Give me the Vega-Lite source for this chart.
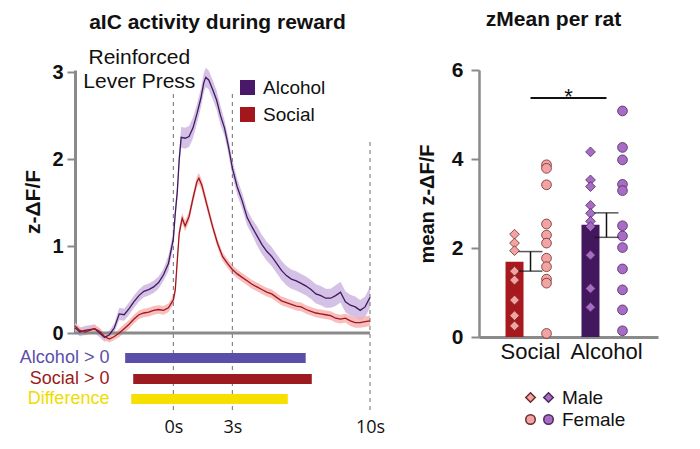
{
  "$schema": "https://vega.github.io/schema/vega-lite/v6.json",
  "padding": {"left": 19, "top": 9, "right": 5, "bottom": 5},
  "bounds": "flush",
  "spacing": 109,
  "config": {
    "view": {"stroke": null},
    "font": "Liberation Sans",
    "axis": {"grid": false, "labelColor": "#111", "titleColor": "#111", "domainColor": "#8a8a8a", "tickColor": "#8a8a8a"},
    "title": {"font": "Liberation Sans", "fontSize": 21, "fontWeight": "bold", "color": "#111", "anchor": "middle", "frame": "group"},
    "legend": {"labelFont": "Liberation Sans", "labelColor": "#111"}
  },
  "resolve": {"scale": {"color": "independent", "shape": "independent"}},
  "datasets": {
    "trace": [
      {"group": "Alcohol", "t": -5.0, "z": 0.06, "lo": 0.01, "hi": 0.11},
      {"group": "Alcohol", "t": -4.75, "z": 0.01, "lo": -0.04, "hi": 0.06},
      {"group": "Alcohol", "t": -4.5, "z": 0.03, "lo": -0.02, "hi": 0.08},
      {"group": "Alcohol", "t": -4.25, "z": 0.04, "lo": -0.01, "hi": 0.09},
      {"group": "Alcohol", "t": -4.0, "z": 0.05, "lo": 0.0, "hi": 0.1},
      {"group": "Alcohol", "t": -3.75, "z": 0.0, "lo": -0.05, "hi": 0.05},
      {"group": "Alcohol", "t": -3.5, "z": -0.05, "lo": -0.1, "hi": 0.0},
      {"group": "Alcohol", "t": -3.25, "z": -0.02, "lo": -0.07, "hi": 0.03},
      {"group": "Alcohol", "t": -3.0, "z": 0.06, "lo": 0.01, "hi": 0.11},
      {"group": "Alcohol", "t": -2.75, "z": 0.22, "lo": 0.15, "hi": 0.29},
      {"group": "Alcohol", "t": -2.5, "z": 0.21, "lo": 0.14, "hi": 0.28},
      {"group": "Alcohol", "t": -2.25, "z": 0.28, "lo": 0.21, "hi": 0.35},
      {"group": "Alcohol", "t": -2.0, "z": 0.36, "lo": 0.29, "hi": 0.43},
      {"group": "Alcohol", "t": -1.75, "z": 0.43, "lo": 0.36, "hi": 0.5},
      {"group": "Alcohol", "t": -1.5, "z": 0.48, "lo": 0.41, "hi": 0.55},
      {"group": "Alcohol", "t": -1.25, "z": 0.5, "lo": 0.43, "hi": 0.57},
      {"group": "Alcohol", "t": -1.0, "z": 0.53, "lo": 0.46, "hi": 0.6},
      {"group": "Alcohol", "t": -0.75, "z": 0.58, "lo": 0.51, "hi": 0.65},
      {"group": "Alcohol", "t": -0.5, "z": 0.67, "lo": 0.6, "hi": 0.74},
      {"group": "Alcohol", "t": -0.25, "z": 0.8, "lo": 0.71, "hi": 0.89},
      {"group": "Alcohol", "t": 0.0, "z": 1.08, "lo": 0.99, "hi": 1.17},
      {"group": "Alcohol", "t": 0.1, "z": 1.38, "lo": 1.29, "hi": 1.47},
      {"group": "Alcohol", "t": 0.2, "z": 1.62, "lo": 1.53, "hi": 1.71},
      {"group": "Alcohol", "t": 0.3, "z": 2.0, "lo": 1.91, "hi": 2.09},
      {"group": "Alcohol", "t": 0.4, "z": 2.25, "lo": 2.13, "hi": 2.37},
      {"group": "Alcohol", "t": 0.6, "z": 2.24, "lo": 2.12, "hi": 2.36},
      {"group": "Alcohol", "t": 0.8, "z": 2.26, "lo": 2.14, "hi": 2.38},
      {"group": "Alcohol", "t": 1.0, "z": 2.36, "lo": 2.24, "hi": 2.48},
      {"group": "Alcohol", "t": 1.2, "z": 2.52, "lo": 2.41, "hi": 2.63},
      {"group": "Alcohol", "t": 1.4, "z": 2.7, "lo": 2.59, "hi": 2.81},
      {"group": "Alcohol", "t": 1.55, "z": 2.88, "lo": 2.77, "hi": 2.99},
      {"group": "Alcohol", "t": 1.65, "z": 2.94, "lo": 2.83, "hi": 3.05},
      {"group": "Alcohol", "t": 1.8, "z": 2.91, "lo": 2.8, "hi": 3.02},
      {"group": "Alcohol", "t": 2.0, "z": 2.8, "lo": 2.69, "hi": 2.91},
      {"group": "Alcohol", "t": 2.2, "z": 2.68, "lo": 2.57, "hi": 2.79},
      {"group": "Alcohol", "t": 2.4, "z": 2.5, "lo": 2.39, "hi": 2.61},
      {"group": "Alcohol", "t": 2.6, "z": 2.36, "lo": 2.27, "hi": 2.45},
      {"group": "Alcohol", "t": 2.8, "z": 2.15, "lo": 2.06, "hi": 2.24},
      {"group": "Alcohol", "t": 3.0, "z": 1.9, "lo": 1.81, "hi": 1.99},
      {"group": "Alcohol", "t": 3.25, "z": 1.68, "lo": 1.59, "hi": 1.77},
      {"group": "Alcohol", "t": 3.5, "z": 1.52, "lo": 1.43, "hi": 1.61},
      {"group": "Alcohol", "t": 3.75, "z": 1.33, "lo": 1.24, "hi": 1.42},
      {"group": "Alcohol", "t": 4.0, "z": 1.22, "lo": 1.13, "hi": 1.31},
      {"group": "Alcohol", "t": 4.25, "z": 1.12, "lo": 1.01, "hi": 1.23},
      {"group": "Alcohol", "t": 4.5, "z": 1.02, "lo": 0.91, "hi": 1.13},
      {"group": "Alcohol", "t": 4.75, "z": 0.94, "lo": 0.83, "hi": 1.05},
      {"group": "Alcohol", "t": 5.0, "z": 0.88, "lo": 0.77, "hi": 0.99},
      {"group": "Alcohol", "t": 5.25, "z": 0.8, "lo": 0.69, "hi": 0.91},
      {"group": "Alcohol", "t": 5.5, "z": 0.72, "lo": 0.61, "hi": 0.83},
      {"group": "Alcohol", "t": 5.75, "z": 0.66, "lo": 0.55, "hi": 0.77},
      {"group": "Alcohol", "t": 6.0, "z": 0.62, "lo": 0.51, "hi": 0.73},
      {"group": "Alcohol", "t": 6.25, "z": 0.6, "lo": 0.49, "hi": 0.71},
      {"group": "Alcohol", "t": 6.5, "z": 0.57, "lo": 0.46, "hi": 0.68},
      {"group": "Alcohol", "t": 6.75, "z": 0.54, "lo": 0.43, "hi": 0.65},
      {"group": "Alcohol", "t": 7.0, "z": 0.5, "lo": 0.39, "hi": 0.61},
      {"group": "Alcohol", "t": 7.25, "z": 0.45, "lo": 0.34, "hi": 0.56},
      {"group": "Alcohol", "t": 7.5, "z": 0.43, "lo": 0.32, "hi": 0.54},
      {"group": "Alcohol", "t": 7.75, "z": 0.4, "lo": 0.29, "hi": 0.51},
      {"group": "Alcohol", "t": 8.0, "z": 0.4, "lo": 0.29, "hi": 0.51},
      {"group": "Alcohol", "t": 8.25, "z": 0.43, "lo": 0.31, "hi": 0.55},
      {"group": "Alcohol", "t": 8.5, "z": 0.47, "lo": 0.35, "hi": 0.59},
      {"group": "Alcohol", "t": 8.75, "z": 0.36, "lo": 0.24, "hi": 0.48},
      {"group": "Alcohol", "t": 9.0, "z": 0.32, "lo": 0.2, "hi": 0.44},
      {"group": "Alcohol", "t": 9.25, "z": 0.3, "lo": 0.18, "hi": 0.42},
      {"group": "Alcohol", "t": 9.5, "z": 0.26, "lo": 0.14, "hi": 0.38},
      {"group": "Alcohol", "t": 9.75, "z": 0.3, "lo": 0.18, "hi": 0.42},
      {"group": "Alcohol", "t": 10.0, "z": 0.41, "lo": 0.29, "hi": 0.53},
      {"group": "Social", "t": -5.0, "z": 0.08, "lo": 0.04, "hi": 0.12},
      {"group": "Social", "t": -4.75, "z": 0.03, "lo": -0.01, "hi": 0.07},
      {"group": "Social", "t": -4.5, "z": 0.01, "lo": -0.03, "hi": 0.05},
      {"group": "Social", "t": -4.25, "z": 0.03, "lo": -0.01, "hi": 0.07},
      {"group": "Social", "t": -4.0, "z": 0.05, "lo": 0.01, "hi": 0.09},
      {"group": "Social", "t": -3.75, "z": 0.02, "lo": -0.02, "hi": 0.06},
      {"group": "Social", "t": -3.5, "z": -0.04, "lo": -0.08, "hi": 0.0},
      {"group": "Social", "t": -3.25, "z": -0.07, "lo": -0.11, "hi": -0.03},
      {"group": "Social", "t": -3.0, "z": -0.04, "lo": -0.08, "hi": 0.0},
      {"group": "Social", "t": -2.75, "z": 0.0, "lo": -0.05, "hi": 0.05},
      {"group": "Social", "t": -2.5, "z": 0.05, "lo": 0.0, "hi": 0.1},
      {"group": "Social", "t": -2.25, "z": 0.1, "lo": 0.05, "hi": 0.15},
      {"group": "Social", "t": -2.0, "z": 0.16, "lo": 0.11, "hi": 0.21},
      {"group": "Social", "t": -1.75, "z": 0.21, "lo": 0.16, "hi": 0.26},
      {"group": "Social", "t": -1.5, "z": 0.23, "lo": 0.18, "hi": 0.28},
      {"group": "Social", "t": -1.25, "z": 0.24, "lo": 0.19, "hi": 0.29},
      {"group": "Social", "t": -1.0, "z": 0.26, "lo": 0.21, "hi": 0.31},
      {"group": "Social", "t": -0.75, "z": 0.27, "lo": 0.22, "hi": 0.32},
      {"group": "Social", "t": -0.5, "z": 0.26, "lo": 0.21, "hi": 0.31},
      {"group": "Social", "t": -0.25, "z": 0.29, "lo": 0.24, "hi": 0.34},
      {"group": "Social", "t": 0.0, "z": 0.38, "lo": 0.33, "hi": 0.43},
      {"group": "Social", "t": 0.1, "z": 0.5, "lo": 0.44, "hi": 0.56},
      {"group": "Social", "t": 0.2, "z": 0.83, "lo": 0.77, "hi": 0.89},
      {"group": "Social", "t": 0.3, "z": 1.15, "lo": 1.09, "hi": 1.21},
      {"group": "Social", "t": 0.45, "z": 1.32, "lo": 1.26, "hi": 1.38},
      {"group": "Social", "t": 0.6, "z": 1.23, "lo": 1.17, "hi": 1.29},
      {"group": "Social", "t": 0.8, "z": 1.34, "lo": 1.28, "hi": 1.4},
      {"group": "Social", "t": 1.0, "z": 1.55, "lo": 1.49, "hi": 1.61},
      {"group": "Social", "t": 1.2, "z": 1.74, "lo": 1.68, "hi": 1.8},
      {"group": "Social", "t": 1.3, "z": 1.78, "lo": 1.72, "hi": 1.84},
      {"group": "Social", "t": 1.45, "z": 1.7, "lo": 1.64, "hi": 1.76},
      {"group": "Social", "t": 1.7, "z": 1.48, "lo": 1.42, "hi": 1.54},
      {"group": "Social", "t": 2.0, "z": 1.22, "lo": 1.17, "hi": 1.27},
      {"group": "Social", "t": 2.25, "z": 1.03, "lo": 0.98, "hi": 1.08},
      {"group": "Social", "t": 2.5, "z": 0.88, "lo": 0.83, "hi": 0.93},
      {"group": "Social", "t": 2.75, "z": 0.8, "lo": 0.75, "hi": 0.85},
      {"group": "Social", "t": 3.0, "z": 0.73, "lo": 0.68, "hi": 0.78},
      {"group": "Social", "t": 3.25, "z": 0.68, "lo": 0.63, "hi": 0.73},
      {"group": "Social", "t": 3.5, "z": 0.64, "lo": 0.59, "hi": 0.69},
      {"group": "Social", "t": 3.75, "z": 0.6, "lo": 0.55, "hi": 0.65},
      {"group": "Social", "t": 4.0, "z": 0.56, "lo": 0.51, "hi": 0.61},
      {"group": "Social", "t": 4.25, "z": 0.53, "lo": 0.48, "hi": 0.58},
      {"group": "Social", "t": 4.5, "z": 0.5, "lo": 0.45, "hi": 0.55},
      {"group": "Social", "t": 4.75, "z": 0.47, "lo": 0.42, "hi": 0.52},
      {"group": "Social", "t": 5.0, "z": 0.45, "lo": 0.4, "hi": 0.5},
      {"group": "Social", "t": 5.25, "z": 0.41, "lo": 0.36, "hi": 0.46},
      {"group": "Social", "t": 5.5, "z": 0.37, "lo": 0.32, "hi": 0.42},
      {"group": "Social", "t": 5.75, "z": 0.35, "lo": 0.3, "hi": 0.4},
      {"group": "Social", "t": 6.0, "z": 0.33, "lo": 0.28, "hi": 0.38},
      {"group": "Social", "t": 6.25, "z": 0.31, "lo": 0.26, "hi": 0.36},
      {"group": "Social", "t": 6.5, "z": 0.3, "lo": 0.25, "hi": 0.35},
      {"group": "Social", "t": 6.75, "z": 0.27, "lo": 0.22, "hi": 0.32},
      {"group": "Social", "t": 7.0, "z": 0.25, "lo": 0.2, "hi": 0.3},
      {"group": "Social", "t": 7.25, "z": 0.23, "lo": 0.18, "hi": 0.28},
      {"group": "Social", "t": 7.5, "z": 0.22, "lo": 0.17, "hi": 0.27},
      {"group": "Social", "t": 7.75, "z": 0.21, "lo": 0.16, "hi": 0.26},
      {"group": "Social", "t": 8.0, "z": 0.2, "lo": 0.15, "hi": 0.25},
      {"group": "Social", "t": 8.25, "z": 0.17, "lo": 0.12, "hi": 0.22},
      {"group": "Social", "t": 8.5, "z": 0.16, "lo": 0.11, "hi": 0.21},
      {"group": "Social", "t": 8.75, "z": 0.17, "lo": 0.12, "hi": 0.22},
      {"group": "Social", "t": 9.0, "z": 0.14, "lo": 0.08, "hi": 0.2},
      {"group": "Social", "t": 9.25, "z": 0.12, "lo": 0.06, "hi": 0.18},
      {"group": "Social", "t": 9.5, "z": 0.12, "lo": 0.06, "hi": 0.18},
      {"group": "Social", "t": 9.75, "z": 0.13, "lo": 0.07, "hi": 0.19},
      {"group": "Social", "t": 10.0, "z": 0.14, "lo": 0.08, "hi": 0.2}
    ],
    "events": [
      {"t": 0, "from": -0.886, "to": 2.76},
      {"t": 3, "from": -0.886, "to": 2.77},
      {"t": 10, "from": -0.886, "to": 2.243}
    ],
    "windows": [
      {"label": "Alcohol > 0", "start": -2.45, "end": 6.73},
      {"label": "Social > 0", "start": -2.04, "end": 7.04},
      {"label": "Difference", "start": -2.14, "end": 5.82}
    ],
    "annotation": [
      {"text": "Reinforced\nLever Press", "t": -1.73}
    ],
    "summary": [
      {"group": "Social", "mean": 1.69, "lo": 1.48, "hi": 1.92},
      {"group": "Alcohol", "mean": 2.52, "lo": 2.24, "hi": 2.79}
    ],
    "rats": [
      {"group": "Social", "sex": "Male", "zmean": 2.31},
      {"group": "Social", "sex": "Male", "zmean": 2.11},
      {"group": "Social", "sex": "Male", "zmean": 1.94},
      {"group": "Social", "sex": "Male", "zmean": 1.48},
      {"group": "Social", "sex": "Male", "zmean": 1.28},
      {"group": "Social", "sex": "Male", "zmean": 0.83},
      {"group": "Social", "sex": "Male", "zmean": 0.48},
      {"group": "Social", "sex": "Male", "zmean": 0.25},
      {"group": "Social", "sex": "Female", "zmean": 3.87},
      {"group": "Social", "sex": "Female", "zmean": 3.79},
      {"group": "Social", "sex": "Female", "zmean": 3.42},
      {"group": "Social", "sex": "Female", "zmean": 2.54},
      {"group": "Social", "sex": "Female", "zmean": 2.29},
      {"group": "Social", "sex": "Female", "zmean": 2.11},
      {"group": "Social", "sex": "Female", "zmean": 1.77},
      {"group": "Social", "sex": "Female", "zmean": 1.58},
      {"group": "Social", "sex": "Female", "zmean": 1.3},
      {"group": "Social", "sex": "Female", "zmean": 1.21},
      {"group": "Social", "sex": "Female", "zmean": 0.08},
      {"group": "Alcohol", "sex": "Male", "zmean": 4.16},
      {"group": "Alcohol", "sex": "Male", "zmean": 3.53},
      {"group": "Alcohol", "sex": "Male", "zmean": 3.38},
      {"group": "Alcohol", "sex": "Male", "zmean": 2.96},
      {"group": "Alcohol", "sex": "Male", "zmean": 2.78},
      {"group": "Alcohol", "sex": "Male", "zmean": 2.6},
      {"group": "Alcohol", "sex": "Male", "zmean": 2.48},
      {"group": "Alcohol", "sex": "Male", "zmean": 1.84},
      {"group": "Alcohol", "sex": "Male", "zmean": 1.09},
      {"group": "Alcohol", "sex": "Male", "zmean": 0.67},
      {"group": "Alcohol", "sex": "Female", "zmean": 5.08},
      {"group": "Alcohol", "sex": "Female", "zmean": 4.26},
      {"group": "Alcohol", "sex": "Female", "zmean": 3.98},
      {"group": "Alcohol", "sex": "Female", "zmean": 3.43},
      {"group": "Alcohol", "sex": "Female", "zmean": 3.29},
      {"group": "Alcohol", "sex": "Female", "zmean": 2.5},
      {"group": "Alcohol", "sex": "Female", "zmean": 2.27},
      {"group": "Alcohol", "sex": "Female", "zmean": 2.01},
      {"group": "Alcohol", "sex": "Female", "zmean": 1.53},
      {"group": "Alcohol", "sex": "Female", "zmean": 1.06},
      {"group": "Alcohol", "sex": "Female", "zmean": 0.61},
      {"group": "Alcohol", "sex": "Female", "zmean": 0.14}
    ]
  },
  "hconcat": [
    {
      "width": 295,
      "height": 263,
      "title": {"text": "aIC activity during reward", "dx": -5, "offset": 14},
      "resolve": {"scale": {"color": "independent"}},
      "layer": [
        {
          "data": {"name": "trace"},
          "mark": {"type": "area", "opacity": 0.85},
          "encoding": {
            "x": {
              "field": "t", "type": "quantitative",
              "scale": {"domain": [-5, 10], "nice": false, "zero": false},
              "axis": {"values": [0, 3, 10], "labelExpr": "datum.value + 's'", "labelFlush": false, "domain": false, "ticks": false, "tickSize": 0, "offset": 83, "labelPadding": 2, "labelFont": "Open Sans", "labelFontSize": 18, "title": null}
            },
            "y": {
              "field": "lo", "type": "quantitative", "title": "z-ΔF/F",
              "scale": {"domain": [0, 3.025], "nice": false},
              "axis": {"values": [0, 1, 2, 3], "format": "d", "title": "z-ΔF/F", "titleFontSize": 21, "titleFontWeight": "bold", "titlePadding": 8, "labelFontSize": 20, "labelFontWeight": "bold", "labelPadding": 4, "domainWidth": 3, "tickWidth": 2, "tickSize": 8}
            },
            "y2": {"field": "hi"},
            "color": {"field": "group", "type": "nominal", "scale": {"domain": ["Alcohol", "Social"], "range": ["#cdb6e0", "#f6b3b1"]}, "legend": null}
          }
        },
        {
          "data": {"name": "events"},
          "mark": {"type": "rule", "strokeDash": [4, 4], "color": "#6e6e6e", "strokeWidth": 1},
          "encoding": {
            "x": {"field": "t", "type": "quantitative"},
            "y": {"field": "from", "type": "quantitative", "title": "z-ΔF/F"},
            "y2": {"field": "to"}
          }
        },
        {
          "data": {"values": [{}]},
          "mark": {"type": "rule", "color": "#8a8a8a", "strokeWidth": 3},
          "encoding": {"y": {"datum": 0}}
        },
        {
          "data": {"name": "trace"},
          "mark": {"type": "line", "strokeWidth": 1.3},
          "encoding": {
            "x": {"field": "t", "type": "quantitative"},
            "y": {"field": "z", "type": "quantitative", "title": "z-ΔF/F"},
            "color": {
              "field": "group", "type": "nominal",
              "scale": {"domain": ["Alcohol", "Social"], "range": ["#3f1a60", "#a3161c"]},
              "legend": null
            }
          }
        },
        {
          "data": {"name": "trace"},
          "mark": {"type": "square", "opacity": 0, "size": 1},
          "encoding": {
            "x": {"field": "t", "type": "quantitative"},
            "y": {"field": "z", "type": "quantitative", "title": "z-ΔF/F"},
            "color": {
              "field": "group", "type": "nominal",
              "scale": {"domain": ["Alcohol", "Social"], "range": ["#4a1868", "#a3161c"]},
              "legend": {"orient": "none", "legendX": 163, "legendY": 8, "title": null, "symbolSize": 225, "symbolOpacity": 1, "symbolStrokeWidth": 0, "labelFontSize": 19, "labelOffset": 6, "rowPadding": 7}
            }
          }
        },
        {
          "data": {"name": "windows"},
          "transform": [{"filter": "datum.label === 'Alcohol > 0'"}],
          "encoding": {"y": {"datum": -0.288}},
          "layer": [
            {"mark": {"type": "rule", "strokeWidth": 10, "color": "#5a4fa8"}, "encoding": {"x": {"field": "start", "type": "quantitative"}, "x2": {"field": "end"}}},
            {"mark": {"type": "text", "align": "right", "baseline": "middle", "fontSize": 18, "color": "#5a4fa8"}, "encoding": {"x": {"datum": -3.25}, "text": {"field": "label"}}}
          ]
        },
        {
          "data": {"name": "windows"},
          "transform": [{"filter": "datum.label === 'Social > 0'"}],
          "encoding": {"y": {"datum": -0.529}},
          "layer": [
            {"mark": {"type": "rule", "strokeWidth": 10, "color": "#9b1b20"}, "encoding": {"x": {"field": "start", "type": "quantitative"}, "x2": {"field": "end"}}},
            {"mark": {"type": "text", "align": "right", "baseline": "middle", "fontSize": 18, "color": "#9b1b20"}, "encoding": {"x": {"datum": -3.25}, "text": {"field": "label"}}}
          ]
        },
        {
          "data": {"name": "windows"},
          "transform": [{"filter": "datum.label === 'Difference'"}],
          "encoding": {"y": {"datum": -0.759}},
          "layer": [
            {"mark": {"type": "rule", "strokeWidth": 10, "color": "#f7e000"}, "encoding": {"x": {"field": "start", "type": "quantitative"}, "x2": {"field": "end"}}},
            {"mark": {"type": "text", "align": "right", "baseline": "middle", "fontSize": 18, "color": "#f0dc00"}, "encoding": {"x": {"datum": -3.25}, "text": {"field": "label"}}}
          ]
        },
        {
          "data": {"name": "annotation"},
          "mark": {"type": "text", "align": "center", "baseline": "middle", "fontSize": 21, "lineBreak": "\n", "lineHeight": 24, "color": "#111"},
          "encoding": {
            "x": {"field": "t", "type": "quantitative"},
            "y": {"datum": 3.163},
            "text": {"field": "text"}
          }
        }
      ]
    },
    {
      "width": 179,
      "height": 267,
      "title": {"text": "zMean per rat", "dx": -15, "offset": 29},
      "resolve": {"scale": {"shape": "independent"}},
      "layer": [
        {
          "data": {"name": "summary"},
          "mark": {"type": "bar"},
          "encoding": {
            "x": {
              "field": "group", "type": "nominal",
              "scale": {"domain": ["Social", "Alcohol"], "paddingInner": 0.342, "paddingOuter": 0.349},
              "axis": {"title": null, "labelAngle": 0, "labelFontSize": 22, "ticks": false, "domainWidth": 3, "labelPadding": 4}
            },
            "y": {
              "field": "mean", "type": "quantitative", "title": "mean z-ΔF/F",
              "scale": {"domain": [0, 6], "nice": false},
              "axis": {"values": [0, 2, 4, 6], "title": "mean z-ΔF/F", "titleFontSize": 20, "titleFontWeight": "bold", "titlePadding": 14, "labelFontSize": 21, "labelFontWeight": "bold", "labelPadding": 8, "domainWidth": 2.5, "tickWidth": 2, "tickSize": 8}
            },
            "color": {"field": "group", "type": "nominal", "scale": {"domain": ["Social", "Alcohol"], "range": ["#a8191e", "#43175d"]}, "legend": null}
          }
        },
        {
          "data": {"name": "rats"},
          "transform": [{"filter": "datum.group === 'Social'"}],
          "mark": {"type": "point", "filled": true, "size": 95, "fill": "#f4a3a3", "stroke": "#6b2c2c", "strokeWidth": 0.8, "opacity": 1},
          "encoding": {
            "x": {"field": "group", "type": "nominal"},
            "xOffset": {"field": "sex", "type": "nominal", "scale": {"type": "point", "domain": ["Male", "Female"], "range": [9, 41], "padding": 0}},
            "y": {"field": "zmean", "type": "quantitative", "title": "mean z-ΔF/F"},
            "shape": {
              "field": "sex", "type": "nominal",
              "scale": {"domain": ["Male", "Female"], "range": ["diamond", "circle"]},
              "legend": {"orient": "none", "legendX": 42, "legendY": 318, "title": null, "symbolSize": 90, "labelFontSize": 19, "labelExpr": "' '", "labelOffset": 1, "rowPadding": 2}
            }
          }
        },
        {
          "data": {"name": "rats"},
          "transform": [{"filter": "datum.group === 'Alcohol'"}],
          "mark": {"type": "point", "filled": true, "size": 95, "fill": "#a86cc6", "stroke": "#4a2a5a", "strokeWidth": 0.8, "opacity": 1},
          "encoding": {
            "x": {"field": "group", "type": "nominal"},
            "xOffset": {"field": "sex", "type": "nominal"},
            "y": {"field": "zmean", "type": "quantitative", "title": "mean z-ΔF/F"},
            "shape": {
              "field": "sex", "type": "nominal",
              "scale": {"domain": ["Male", "Female"], "range": ["diamond", "circle"]},
              "legend": {"orient": "none", "legendX": 60, "legendY": 318, "title": null, "symbolSize": 90, "labelFontSize": 19, "labelOffset": 4, "rowPadding": 2}
            }
          }
        },
        {
          "data": {"name": "summary"},
          "mark": {"type": "errorbar", "ticks": true, "size": 24, "thickness": 1.5, "color": "#111"},
          "encoding": {
            "x": {"field": "group", "type": "nominal"},
            "y": {"field": "lo", "type": "quantitative", "title": "mean z-ΔF/F"},
            "y2": {"field": "hi"}
          }
        },
        {
          "data": {"values": [{}]},
          "mark": {"type": "rule", "strokeWidth": 2, "color": "#111"},
          "encoding": {
            "x": {"datum": "Social"},
            "x2": {"datum": "Alcohol"},
            "y": {"datum": 5.37}
          }
        },
        {
          "data": {"values": [{"mark": "*"}]},
          "mark": {"type": "text", "fontSize": 22, "baseline": "alphabetic", "dx": 38, "dy": 6, "color": "#111"},
          "encoding": {
            "x": {"datum": "Social"},
            "y": {"datum": 5.37},
            "text": {"field": "mark"}
          }
        }
      ]
    }
  ]
}
